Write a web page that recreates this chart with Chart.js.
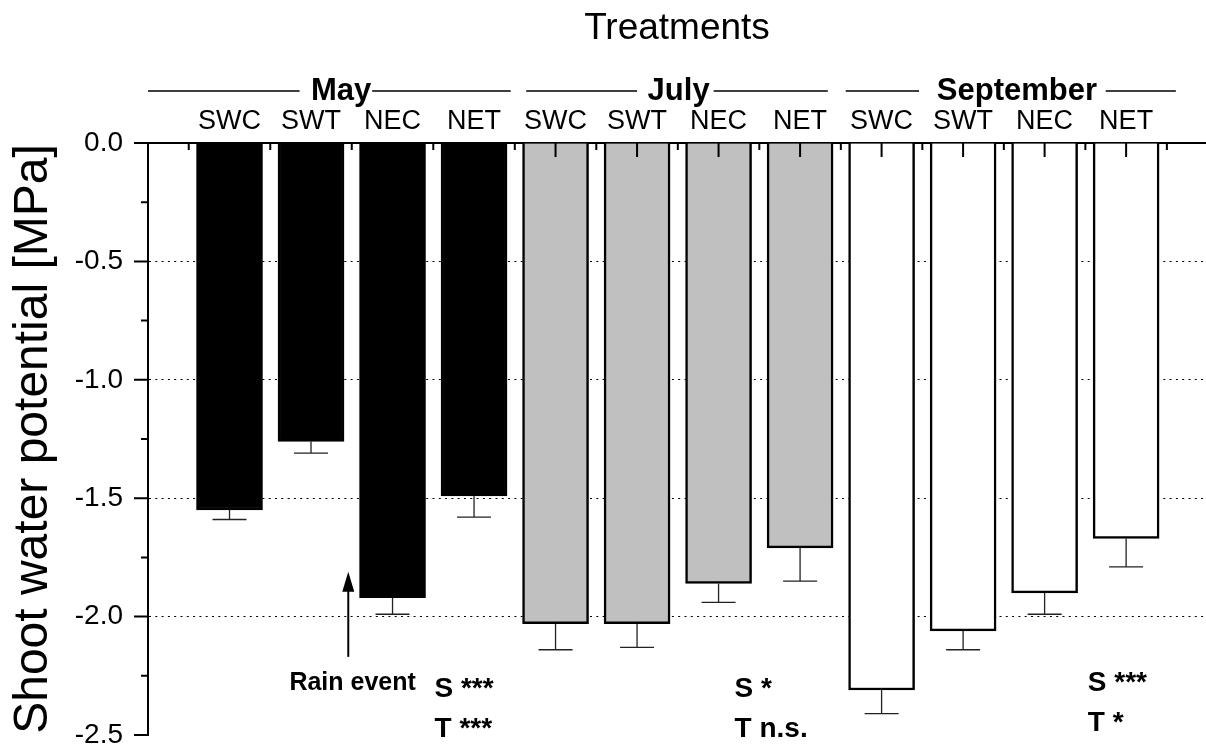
<!DOCTYPE html>
<html>
<head>
<meta charset="utf-8">
<script src="https://cdn.jsdelivr.net/npm/chart.js@4.4.1/dist/chart.umd.min.js"></script>
<style>
    html, body { margin: 0; padding: 0; background: #fff; }
</style>
</head>
<body>
<canvas id="chart" width="1206" height="746"></canvas>
<script>
const months = ['May', 'July', 'September'];
const treatments = ['SWC', 'SWT', 'NEC', 'NET'];
const labels = months.flatMap(() => treatments);
const positions = [1, 2, 3, 4, 5, 6, 7, 8, 9, 10, 11, 12];
const means = [-1.55, -1.26, -1.92, -1.49, -2.03, -2.03, -1.86, -1.71, -2.31, -2.06, -1.90, -1.67];
const errors = [0.04, 0.05, 0.07, 0.09, 0.11, 0.10, 0.08, 0.14, 0.10, 0.08, 0.09, 0.12];
const monthColors = ['#000000', '#c0c0c0', '#ffffff'];
const statsS = ['S ***', 'S *', 'S ***'];
const statsT = ['T ***', 'T n.s.', 'T *'];
const yTicks = [0, -0.5, -1.0, -1.5, -2.0, -2.5];

const FONT = '"Liberation Sans", Arial, sans-serif';
const barColors = positions.map((p, i) => monthColors[Math.floor(i / 4)]);

const decorations = {
    id: 'decorations',
    afterDatasetsDraw(chart) {
        const { ctx } = chart;
        const x = chart.scales.x;
        const y = chart.scales.y;
        const meta = chart.getDatasetMeta(0);
        ctx.save();

        // error bars, downward only
        ctx.strokeStyle = '#222';
        ctx.lineWidth = 1.3;
        meta.data.forEach((bar, i) => {
            const yTop = y.getPixelForValue(means[i]);
            const yEnd = y.getPixelForValue(means[i] - errors[i]);
            ctx.beginPath();
            ctx.moveTo(bar.x, yTop);
            ctx.lineTo(bar.x, yEnd);
            ctx.moveTo(bar.x - 17, yEnd);
            ctx.lineTo(bar.x + 17, yEnd);
            ctx.stroke();
        });

        // ticks: top axis inward, left axis outward
        ctx.strokeStyle = '#000';
        ctx.lineWidth = 2;
        const top = chart.chartArea.top;
        const left = chart.chartArea.left;
        ctx.beginPath();
        for (let v = 0.5; v <= 13; v += 0.5) {
            const px = x.getPixelForValue(v);
            if (px > chart.width) break;
            const len = Number.isInteger(v) ? 14 : 7;
            ctx.moveTo(px, top);
            ctx.lineTo(px, top + len);
        }
        for (let v = 0; v >= -2.5; v -= 0.25) {
            const py = y.getPixelForValue(v);
            const len = Math.abs(v * 2 - Math.round(v * 2)) < 1e-6 ? 14 : 7;
            ctx.moveTo(left, py);
            ctx.lineTo(left - len, py);
        }
        ctx.stroke();
        ctx.restore();
    },
    afterDraw(chart) {
        const { ctx } = chart;
        const x = chart.scales.x;
        const y = chart.scales.y;
        ctx.save();

        // month headers with lines
        const segments = [[0, 1.86], [2.75, 4.45], [4.64, 6.0], [6.94, 8.34], [8.56, 9.46], [11.75, 12.61]];
        const headX = [2.37, 6.51, 10.66];
        ctx.strokeStyle = '#000';
        ctx.lineWidth = 1.5;
        ctx.beginPath();
        segments.forEach(([a, b]) => {
            ctx.moveTo(x.getPixelForValue(a), 91);
            ctx.lineTo(x.getPixelForValue(b), 91);
        });
        ctx.stroke();
        ctx.fillStyle = '#000';
        ctx.font = 'bold 31px ' + FONT;
        ctx.textAlign = 'center';
        ctx.textBaseline = 'alphabetic';
        months.forEach((m, i) => ctx.fillText(m, x.getPixelForValue(headX[i]), 100));

        // significance notes
        ctx.font = 'bold 28px ' + FONT;
        ctx.textAlign = 'left';
        const statX = [3.515, 7.196, 11.53];
        const statY = [[-2.34, -2.509], [-2.34, -2.509], [-2.315, -2.484]];
        statsS.forEach((s, i) => {
            ctx.fillText(s, x.getPixelForValue(statX[i]), y.getPixelForValue(statY[i][0]));
            ctx.fillText(statsT[i], x.getPixelForValue(statX[i]), y.getPixelForValue(statY[i][1]));
        });

        // rain event arrow
        const ax = x.getPixelForValue(2.457);
        const tip = y.getPixelForValue(-1.811);
        const tail = y.getPixelForValue(-2.17);
        ctx.lineWidth = 2;
        ctx.beginPath();
        ctx.moveTo(ax, tail);
        ctx.lineTo(ax, tip + 18);
        ctx.stroke();
        ctx.beginPath();
        ctx.moveTo(ax, tip);
        ctx.lineTo(ax - 6, tip + 20);
        ctx.lineTo(ax + 6, tip + 20);
        ctx.closePath();
        ctx.fill();
        ctx.font = 'bold 25px ' + FONT;
        ctx.textAlign = 'center';
        ctx.fillText('Rain event', x.getPixelForValue(2.51), y.getPixelForValue(-2.311));
        ctx.restore();
    },
};

const noPad = (s) => {
    s.paddingTop = 0;
    s.paddingBottom = 0;
    s.paddingLeft = 0;
    s.paddingRight = 0;
};

new Chart(document.getElementById('chart'), {
    type: 'bar',
    data: {
        datasets: [
            {
                data: positions.map((p, i) => ({ x: p, y: means[i] })),
                backgroundColor: barColors,
                borderColor: '#000',
                borderWidth: 2.5,
                borderSkipped: 'start',
                barThickness: 66,
            },
        ],
    },
    options: {
        responsive: false,
        animation: false,
        layout: { padding: { bottom: 11, right: 0, left: 0, top: 0 } },
        plugins: { legend: { display: false }, tooltip: { enabled: false } },
        scales: {
            x: {
                type: 'linear',
                position: 'top',
                offset: false,
                min: 0,
                max: 12.98,
                afterFit: (s) => { s.height = 143; noPad(s); },
                afterBuildTicks: (s) => { s.ticks = positions.map((v) => ({ value: v })); },
                ticks: {
                    autoSkip: false,
                    maxRotation: 0,
                    padding: 5,
                    color: '#000',
                    font: { family: FONT, size: 27 },
                    callback: (v) => labels[positions.indexOf(v)] ?? '',
                },
                grid: { display: false, drawTicks: false, offset: false },
                border: { display: true, color: '#000', width: 2 },
                title: {
                    display: true,
                    text: 'Treatments',
                    color: '#000',
                    font: { family: FONT, size: 37 },
                    padding: { top: 7, bottom: 0 },
                },
            },
            y: {
                min: -2.5,
                max: 0,
                afterFit: (s) => { s.width = 148; noPad(s); },
                afterBuildTicks: (s) => { s.ticks = yTicks.map((v) => ({ value: v })); },
                ticks: {
                    padding: 25,
                    color: '#000',
                    font: { family: FONT, size: 28 },
                    callback: (v) => Number(v).toFixed(1),
                },
                grid: {
                    drawTicks: false,
                    lineWidth: 1,
                    color: (c) => (c.tick && (c.tick.value === 0 || c.tick.value === -2.5) ? 'rgba(0,0,0,0)' : '#000'),
                },
                border: { display: true, color: '#000', width: 2, dash: [2, 4.3] },
                title: {
                    display: true,
                    text: 'Shoot water potential [MPa]',
                    color: '#000',
                    font: { family: FONT, size: 48 },
                    padding: { top: 5, bottom: 0 },
                },
            },
        },
    },
    plugins: [decorations],
});
</script>
</body>
</html>
